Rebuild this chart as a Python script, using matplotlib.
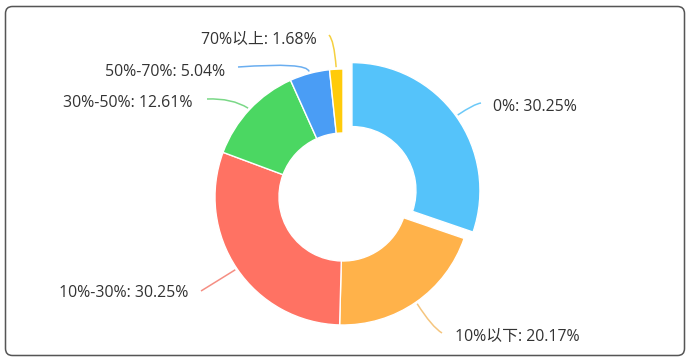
import matplotlib
matplotlib.use("Agg")
import matplotlib.pyplot as plt
import numpy as np
from matplotlib.path import Path
from matplotlib.patches import PathPatch, FancyBboxPatch

plt.rcParams['font.family'] = ['Open Sans', 'Noto Sans CJK SC', 'DejaVu Sans']

categories = ["0%", "10%以下", "10%-30%", "30%-50%", "50%-70%", "70%以上"]
values = [30.25, 20.17, 30.25, 12.61, 5.04, 1.68]
colors = ["#55C3FA", "#FFB24A", "#FF7263", "#4BD762", "#4A9DF5", "#FFCB0A"]
line_colors = ["#6CC9F8", "#F5C57E", "#F58E83", "#7AD887", "#6AAEF0", "#F5D040"]
explode_px = [11, 0, 0, 0, 0, 0]

W, H = 691, 361
fig = plt.figure(figsize=(W / 100, H / 100), dpi=100)
ax = fig.add_axes([0, 0, 1, 1])
ax.set_xlim(0, W)
ax.set_ylim(0, H)
ax.set_aspect('equal')
ax.axis('off')

# border
ax.add_patch(FancyBboxPatch((5.5, 5.5), W - 12, H - 12,
                            boxstyle="round,pad=0,rounding_size=7",
                            fc='white', ec='#555555', lw=1.1, zorder=0))

cx, cy = 343, H - 197
R, r_in = 128, 64
wedges, _ = ax.pie(values, colors=colors, startangle=90, counterclock=False,
                   radius=R, center=(cx, cy), explode=explode_px,
                   wedgeprops=dict(width=R - r_in, edgecolor='white', linewidth=1))
ax.set_xlim(0, W)
ax.set_ylim(0, H)

# label layout: leader end point (pixel coords), elbow, text anchor
ends = [(481, 103), (442, 333), (201, 291), (207, 99), (238, 67), (329, 35)]
text_pos = [(493, 107), (455, 337), (188, 293), (193, 103), (225, 72), (317, 40)]
elbows = [(474, 104), (432, 327), (214, 283), (232, 98), (307, 62), (334, 40)]
has = ['left', 'left', 'right', 'right', 'right', 'right']

total = sum(values)
cum = 0
for i, v in enumerate(values):
    mid = 90 - (cum + v / 2) / total * 360
    cum += v
    a = np.deg2rad(mid)
    ox = explode_px[i] * np.cos(a)
    oy = explode_px[i] * np.sin(a)
    sx = cx + ox + (R + 2) * np.cos(a)
    sy = cy + oy + (R + 2) * np.sin(a)
    ex, ey = ends[i]
    bx, by = elbows[i]
    verts = [(sx, sy), (bx, H - by), (ex, H - ey)]
    p = Path(verts, [Path.MOVETO, Path.CURVE3, Path.CURVE3])
    ax.add_patch(PathPatch(p, fc='none', ec=line_colors[i], lw=1.1))
    tx, ty = text_pos[i]
    ax.text(tx, H - ty, f"{categories[i]}: {v:.2f}%", ha=has[i], va='center',
            fontsize=11.4, color='#333333')

fig.savefig("out.png", dpi=100)
